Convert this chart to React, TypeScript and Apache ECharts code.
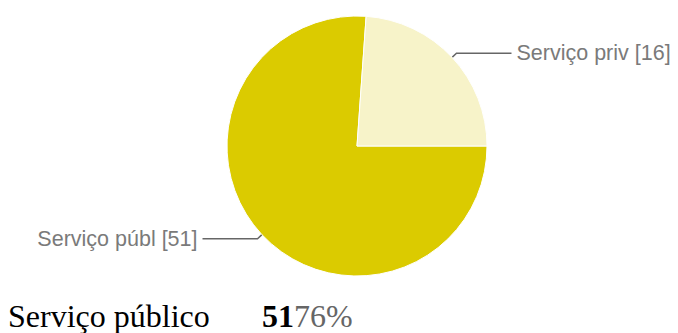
import React, { useEffect, useRef } from "react";
import * as echarts from "echarts";

const categories = ["Serviço públ", "Serviço priv"];
const values = [51, 16];
const colors = ["#DBCB00", "#F7F3C9"];
const summaryLabel = "Serviço público";
const summaryCount = "51";
const summaryPercent = "76%";

export default function App() {
  const ref = useRef<HTMLDivElement>(null);
  useEffect(() => {
    if (!ref.current) return;
    const chart = echarts.init(ref.current, undefined, { renderer: "svg" });
    chart.setOption({
      animation: false,
      backgroundColor: "#ffffff",
      series: [
        {
          type: "pie",
          center: [357, 146],
          radius: 130,
          startAngle: 0,
          clockwise: true,
          avoidLabelOverlap: false,
          data: categories.map((c, i) => ({
            name: c,
            value: values[i],
            itemStyle: { color: colors[i] },
          })),
          itemStyle: { borderColor: "#ffffff", borderWidth: 1 },
          label: {
            show: true,
            position: "outside",
            formatter: "{b} [{c}]",
            color: "#7a7a7a",
            fontSize: 21.5,
            fontFamily: "Liberation Sans, Arial, sans-serif",
            distanceToLabelLine: 5,
          },
          labelLine: {
            show: true,
            length: 6,
            length2: 55,
            lineStyle: { color: "#666666", width: 1.5 },
          },
          emphasis: { disabled: true },
        },
      ],
      graphic: [
        {
          type: "text",
          x: 8,
          y: 316,
          style: {
            text: summaryLabel,
            font: "32px 'Liberation Serif', 'Times New Roman', serif",
            fill: "#000000",
            verticalAlign: "middle",
            align: "left",
          },
        },
        {
          type: "text",
          x: 262,
          y: 316,
          style: {
            text: summaryCount,
            font: "bold 32px 'Liberation Serif', 'Times New Roman', serif",
            fill: "#000000",
            verticalAlign: "middle",
            align: "left",
          },
        },
        {
          type: "text",
          x: 294,
          y: 316,
          style: {
            text: summaryPercent,
            font: "32px 'Liberation Serif', 'Times New Roman', serif",
            fill: "#666666",
            verticalAlign: "middle",
            align: "left",
          },
        },
      ],
    });
    return () => chart.dispose();
  }, []);
  return (
    <div
      ref={ref}
      style={{ position: "absolute", left: 0, top: 0, width: 678, height: 333 }}
    />
  );
}
